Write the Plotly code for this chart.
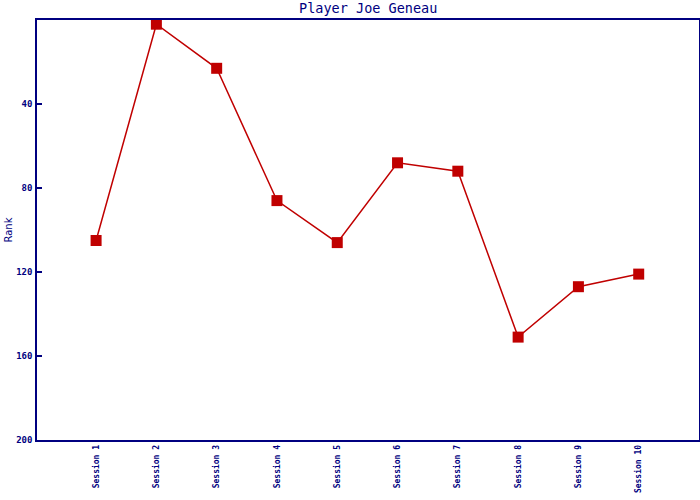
import plotly.graph_objects as go

sessions = ["Session 1", "Session 2", "Session 3", "Session 4", "Session 5",
            "Session 6", "Session 7", "Session 8", "Session 9", "Session 10"]
ranks = [105, 2, 23, 86, 106, 68, 72, 151, 127, 121]
y_ticks = [40, 80, 120, 160, 200]

navy = "#000080"
red = "#C00000"
mono = "DejaVu Sans Mono"

x_idx = list(range(len(sessions)))

fig = go.Figure()
fig.add_trace(go.Scatter(
    x=x_idx, y=ranks, mode="lines+markers",
    line=dict(color=red, width=1.5),
    marker=dict(symbol="square", size=11, color=red),
    showlegend=False, hoverinfo="skip",
))

fig.update_layout(
    width=700, height=500,
    margin=dict(l=37, r=1, t=20, b=60, autoexpand=False),
    paper_bgcolor="white", plot_bgcolor="white",
    title=dict(text="Player Joe Geneau", x=0.526, xanchor="center", y=0.984, yanchor="middle",
               pad=dict(t=0, b=0),
               font=dict(family=mono, size=13.5, color=navy)),
    xaxis=dict(
        range=[-0.98, 10], tickvals=x_idx, ticktext=sessions, tickangle=-90,
        showgrid=False, zeroline=False, showline=True, linecolor=navy, linewidth=1.5,
        mirror=True, ticks="", automargin=False,
        tickfont=dict(family=mono, size=8, color=navy, weight="bold"),
    ),
    yaxis=dict(
        range=[200, 0], tickvals=y_ticks, showgrid=False, zeroline=False,
        showline=True, linecolor=navy, linewidth=1.5, mirror=True, automargin=False,
        ticks="inside", ticklen=5, tickcolor=navy, tickwidth=1.5,
        ticklabelstandoff=1,
        tickfont=dict(family=mono, size=9, color=navy, weight="bold"),
        title=dict(text="Rank", font=dict(family="DejaVu Sans", size=10, color=navy), standoff=2),
    ),
)

post = ("document.body.style.margin='0';document.body.style.overflow='hidden';"
        "var gd=document.getElementById('{plot_id}');"
        "Plotly.relayout(gd,{width:700,height:500});")
fig.write_html("out.html", post_script=post, config={"displayModeBar": False})
